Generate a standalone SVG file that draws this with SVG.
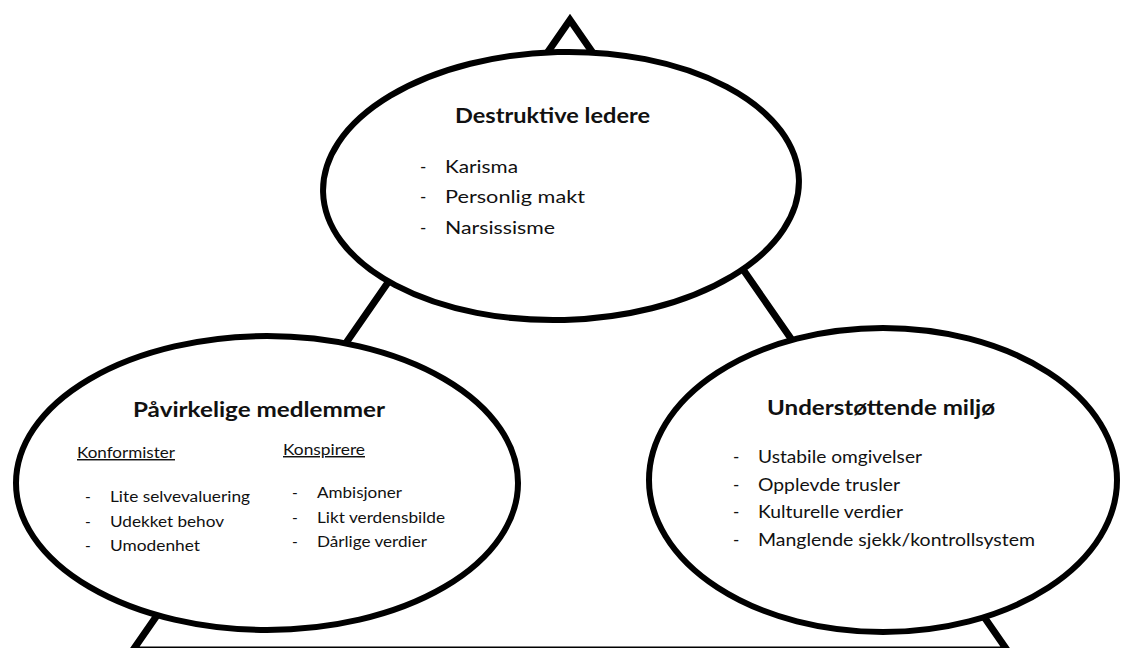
<svg xmlns="http://www.w3.org/2000/svg" width="1129" height="648" viewBox="0 0 1129 648">
<style>
.bg{fill:#ffffff}
.edge{fill:none;stroke:#000;stroke-width:7;stroke-linejoin:miter;stroke-miterlimit:10}
.node{fill:#ffffff;stroke:#000;stroke-width:6}
text{font-family:Lato,"Open Sans","Liberation Sans",sans-serif;fill:#111}
.title{font-weight:bold;font-size:21px}
.item{font-size:17px}
.item2{font-size:15.5px}
.sub{font-size:14.5px;text-decoration:underline}
</style>
<rect class="bg" x="0" y="0" width="1129" height="648"/>
<g id="connectors">
<path class="edge" d="M133,650 L570,20 L1007,650 Z"/>
</g>
<g id="node-destruktive-ledere">
<ellipse class="node" cx="561" cy="186" rx="238" ry="134" transform="rotate(-1.5 561 186)"/>
<text class="title" x="455" y="123" textLength="195" lengthAdjust="spacingAndGlyphs">Destruktive ledere</text>
<text class="item" x="420" y="173">-</text><text class="item" x="445" y="173" textLength="73" lengthAdjust="spacingAndGlyphs">Karisma</text>
<text class="item" x="420" y="203">-</text><text class="item" x="445" y="203" textLength="140" lengthAdjust="spacingAndGlyphs">Personlig makt</text>
<text class="item" x="420" y="234">-</text><text class="item" x="445" y="234" textLength="110" lengthAdjust="spacingAndGlyphs">Narsissisme</text>
</g>
<g id="node-pavirkelige-medlemmer">
<ellipse class="node" cx="267" cy="483" rx="251" ry="147"/>
<text class="title" x="133" y="417" textLength="252" lengthAdjust="spacingAndGlyphs">Påvirkelige medlemmer</text>
<text class="sub" x="77" y="458" textLength="98" lengthAdjust="spacingAndGlyphs">Konformister</text>
<text class="sub" x="283" y="455" textLength="82" lengthAdjust="spacingAndGlyphs">Konspirere</text>
<text class="item2" x="85" y="502">-</text><text class="item2" x="110" y="502" textLength="140" lengthAdjust="spacingAndGlyphs">Lite selvevaluering</text>
<text class="item2" x="85" y="527">-</text><text class="item2" x="110" y="527" textLength="114" lengthAdjust="spacingAndGlyphs">Udekket behov</text>
<text class="item2" x="85" y="551">-</text><text class="item2" x="110" y="551" textLength="90" lengthAdjust="spacingAndGlyphs">Umodenhet</text>
<text class="item2" x="292" y="498">-</text><text class="item2" x="317" y="498" textLength="85" lengthAdjust="spacingAndGlyphs">Ambisjoner</text>
<text class="item2" x="292" y="523">-</text><text class="item2" x="317" y="523" textLength="128" lengthAdjust="spacingAndGlyphs">Likt verdensbilde</text>
<text class="item2" x="292" y="547">-</text><text class="item2" x="317" y="547" textLength="110" lengthAdjust="spacingAndGlyphs">Dårlige verdier</text>
</g>
<g id="node-understottende-miljo">
<ellipse class="node" cx="883" cy="480" rx="234" ry="152"/>
<text class="title" x="767" y="415" textLength="228" lengthAdjust="spacingAndGlyphs">Understøttende miljø</text>
<text class="item" x="733" y="463">-</text><text class="item" x="758" y="463" textLength="164" lengthAdjust="spacingAndGlyphs">Ustabile omgivelser</text>
<text class="item" x="733" y="491">-</text><text class="item" x="758" y="491" textLength="142" lengthAdjust="spacingAndGlyphs">Opplevde trusler</text>
<text class="item" x="733" y="518">-</text><text class="item" x="758" y="518" textLength="145" lengthAdjust="spacingAndGlyphs">Kulturelle verdier</text>
<text class="item" x="733" y="546">-</text><text class="item" x="758" y="546" textLength="277" lengthAdjust="spacingAndGlyphs">Manglende sjekk/kontrollsystem</text>
</g>
</svg>
